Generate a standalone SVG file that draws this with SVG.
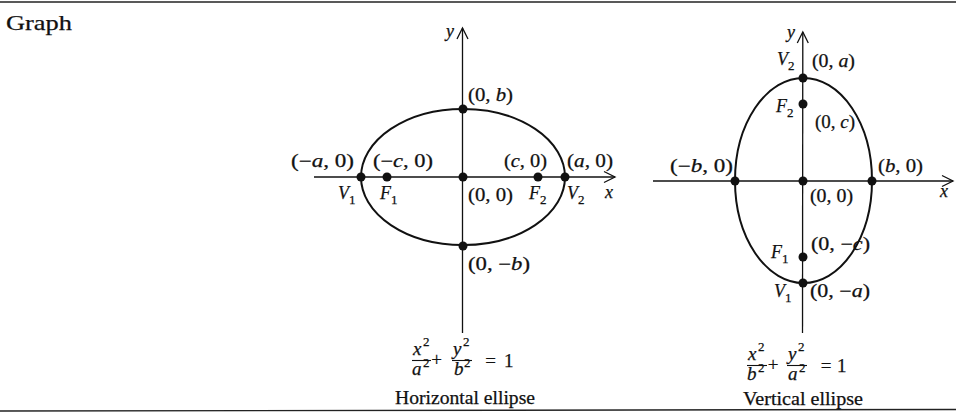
<svg xmlns="http://www.w3.org/2000/svg" width="956" height="414" viewBox="0 0 956 414">
<style>
text{font-family:"Liberation Serif","Times New Roman",serif;font-size:18px;fill:#111;stroke:#111;stroke-width:0.25}
.i{font-style:italic}
.s{font-size:13px}
.e{font-size:19px}
.ax{stroke:#111;stroke-width:1.3;fill:none}
.el{stroke:#111;stroke-width:2;fill:none}
.dot{fill:#111}
.rule{stroke:#222;stroke-width:1.4}
.bar{stroke:#111;stroke-width:1.1}
</style>
<defs>
<marker id="arr" markerUnits="userSpaceOnUse" markerWidth="14" markerHeight="14" refX="12" refY="6" orient="auto" overflow="visible">
<path d="M1,0.5 L12,6 L1,11.5" fill="none" stroke="#111" stroke-width="1.3"/>
</marker>
</defs>
<rect width="956" height="414" fill="#fff"/>
<line class="rule" x1="0" y1="2" x2="956" y2="2"/>
<line class="rule" x1="0" y1="411" x2="956" y2="409.5"/>
<text x="6" y="30" style="font-size:22px" textLength="66" lengthAdjust="spacingAndGlyphs">Graph</text>

<g id="connectors">
<line class="ax" x1="314" y1="177" x2="615" y2="177" marker-end="url(#arr)"/>
<line class="ax" x1="462.5" y1="333" x2="462.5" y2="28" marker-end="url(#arr)"/>
<line class="ax" x1="653" y1="181" x2="953" y2="181" marker-end="url(#arr)"/>
<line class="ax" x1="802.5" y1="333" x2="802.8" y2="32" marker-end="url(#arr)"/>
</g>

<g id="horizontal-ellipse">
<ellipse class="el" cx="463" cy="177" rx="102" ry="68"/>
</g>
<g id="vertical-ellipse">
<ellipse class="el" cx="803.5" cy="180.5" rx="68.5" ry="102.5"/>
</g>

<g id="h-axis-labels">
<text x="446" y="37" class="i">y</text>
<text x="605" y="198" class="i">x</text>
</g>
<g id="h-top">
<circle class="dot" cx="463" cy="109" r="4.5"/>
<text x="468" y="101" textLength="45" lengthAdjust="spacingAndGlyphs">(0, <tspan class="i">b</tspan>)</text>
</g>
<g id="h-bottom">
<circle class="dot" cx="463" cy="246" r="4.5"/>
<text x="468" y="270" textLength="62" lengthAdjust="spacingAndGlyphs">(0, −<tspan class="i">b</tspan>)</text>
</g>
<g id="h-center">
<circle class="dot" cx="463" cy="177" r="4.5"/>
<text x="468" y="201" textLength="45" lengthAdjust="spacingAndGlyphs">(0, 0)</text>
</g>
<g id="h-V1">
<circle class="dot" cx="361" cy="177" r="4.5"/>
<text x="291" y="167" textLength="63" lengthAdjust="spacingAndGlyphs">(−<tspan class="i">a</tspan>, 0)</text>
<text x="338" y="199"><tspan class="i">V</tspan><tspan class="s" dy="5">1</tspan></text>
</g>
<g id="h-F1">
<circle class="dot" cx="387" cy="177" r="4.5"/>
<text x="373" y="167" textLength="60" lengthAdjust="spacingAndGlyphs">(−<tspan class="i">c</tspan>, 0)</text>
<text x="380" y="199"><tspan class="i">F</tspan><tspan class="s" dy="5">1</tspan></text>
</g>
<g id="h-F2">
<circle class="dot" cx="538" cy="177" r="4.5"/>
<text x="504" y="167" textLength="43" lengthAdjust="spacingAndGlyphs">(<tspan class="i">c</tspan>, 0)</text>
<text x="529" y="199"><tspan class="i">F</tspan><tspan class="s" dy="5">2</tspan></text>
</g>
<g id="h-V2">
<circle class="dot" cx="565" cy="177" r="4.5"/>
<text x="567" y="167" textLength="46" lengthAdjust="spacingAndGlyphs">(<tspan class="i">a</tspan>, 0)</text>
<text x="567" y="199"><tspan class="i">V</tspan><tspan class="s" dy="5">2</tspan></text>
</g>

<g id="v-axis-labels">
<text x="787" y="38" class="i">y</text>
<text x="940" y="197" class="i">x</text>
</g>
<g id="v-V2">
<circle class="dot" cx="803" cy="78" r="4.5"/>
<text x="777" y="65"><tspan class="i">V</tspan><tspan class="s" dy="5">2</tspan></text>
<text x="812" y="67" textLength="43" lengthAdjust="spacingAndGlyphs">(0, <tspan class="i">a</tspan>)</text>
</g>
<g id="v-F2">
<circle class="dot" cx="803" cy="104" r="4.5"/>
<text x="776" y="112"><tspan class="i">F</tspan><tspan class="s" dy="5">2</tspan></text>
<text x="815" y="128" textLength="40" lengthAdjust="spacingAndGlyphs">(0, <tspan class="i">c</tspan>)</text>
</g>
<g id="v-left">
<circle class="dot" cx="735" cy="181" r="4.5"/>
<text x="670" y="172" textLength="63" lengthAdjust="spacingAndGlyphs">(−<tspan class="i">b</tspan>, 0)</text>
</g>
<g id="v-center">
<circle class="dot" cx="803" cy="181" r="4.5"/>
<text x="810" y="202" textLength="43" lengthAdjust="spacingAndGlyphs">(0, 0)</text>
</g>
<g id="v-right">
<circle class="dot" cx="872" cy="181" r="4.5"/>
<text x="878" y="172" textLength="45" lengthAdjust="spacingAndGlyphs">(<tspan class="i">b</tspan>, 0)</text>
</g>
<g id="v-F1">
<circle class="dot" cx="803" cy="257" r="4.5"/>
<text x="771" y="258"><tspan class="i">F</tspan><tspan class="s" dy="5">1</tspan></text>
<text x="811" y="250" textLength="59" lengthAdjust="spacingAndGlyphs">(0, −<tspan class="i">c</tspan>)</text>
</g>
<g id="v-V1">
<circle class="dot" cx="803" cy="283" r="4.5"/>
<text x="774" y="297"><tspan class="i">V</tspan><tspan class="s" dy="5">1</tspan></text>
<text x="810" y="297" textLength="60" lengthAdjust="spacingAndGlyphs">(0, −<tspan class="i">a</tspan>)</text>
</g>

<g id="h-equation">
<text x="413" y="355" class="i e">x</text><text x="423" y="346" class="s">2</text>
<line class="bar" x1="412" y1="360.5" x2="431" y2="360.5"/>
<text x="412" y="375" class="i e">a</text><text x="423" y="367" class="s">2</text>
<text x="436.5" y="366" text-anchor="middle" class="e">+</text>
<text x="453" y="355" class="i e">y</text><text x="463" y="346" class="s">2</text>
<line class="bar" x1="452" y1="360.5" x2="472" y2="360.5"/>
<text x="454" y="375" class="i e">b</text><text x="464" y="367" class="s">2</text>
<text x="490.5" y="366.5" text-anchor="middle" class="e">=</text>
<text x="504" y="367" class="e">1</text>
<text x="395" y="404" textLength="140" lengthAdjust="spacingAndGlyphs">Horizontal ellipse</text>
</g>
<g id="v-equation">
<text x="748" y="360" class="i e">x</text><text x="758" y="351" class="s">2</text>
<line class="bar" x1="747" y1="365.5" x2="767" y2="365.5"/>
<text x="747" y="380" class="i e">b</text><text x="758" y="372" class="s">2</text>
<text x="773" y="371" text-anchor="middle" class="e">+</text>
<text x="788" y="360" class="i e">y</text><text x="798" y="351" class="s">2</text>
<line class="bar" x1="787" y1="365.5" x2="807" y2="365.5"/>
<text x="788" y="380" class="i e">a</text><text x="799" y="372" class="s">2</text>
<text x="826" y="371.5" text-anchor="middle" class="e">=</text>
<text x="837" y="372" class="e">1</text>
<text x="743" y="405" textLength="120" lengthAdjust="spacingAndGlyphs">Vertical ellipse</text>
</g>
</svg>
